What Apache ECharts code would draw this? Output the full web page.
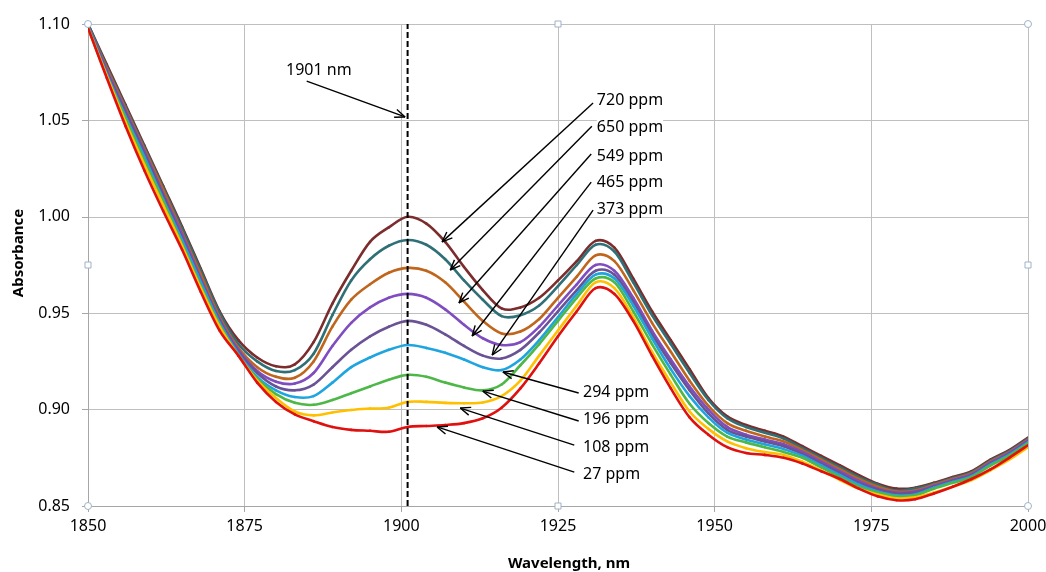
<!DOCTYPE html>
<html>
<head>
<meta charset="utf-8">
<script src="https://cdn.jsdelivr.net/npm/echarts@6/dist/echarts.min.js"></script>
<style>
html, body { margin: 0; padding: 0; background: #fff; }
#container { width: 1046px; height: 572px; }
</style>
</head>
<body>
<div id="container"></div>
<script>
var wavelengths = [1850, 1853, 1856, 1859, 1862, 1865, 1868, 1871, 1874, 1877, 1880, 1883, 1886, 1889, 1892, 1895, 1898, 1901, 1904, 1907, 1910, 1913, 1916, 1919, 1922, 1925, 1928, 1931, 1934, 1937, 1940, 1943, 1946, 1949, 1952, 1955, 1958, 1961, 1964, 1967, 1970, 1973, 1976, 1979, 1982, 1985, 1988, 1991, 1994, 1997, 2000];

var ppm720 = [1.100, 1.079, 1.058, 1.037, 1.016, 0.995, 0.973, 0.951, 0.936, 0.927, 0.9225, 0.9235, 0.935, 0.955, 0.972, 0.987, 0.9945, 1.000, 0.9965, 0.987, 0.974, 0.962, 0.9525, 0.9530, 0.958, 0.967, 0.977, 0.9875, 0.984, 0.968, 0.951, 0.936, 0.921, 0.906, 0.8965, 0.892, 0.889, 0.886, 0.881, 0.876, 0.871, 0.866, 0.8615, 0.859, 0.8595, 0.862, 0.865, 0.868, 0.874, 0.879, 0.8855];
var ppm650 = [1.100, 1.078, 1.057, 1.036, 1.015, 0.994, 0.972, 0.950, 0.934, 0.925, 0.920, 0.9205, 0.929, 0.949, 0.967, 0.978, 0.985, 0.988, 0.9855, 0.978, 0.967, 0.957, 0.9485, 0.949, 0.954, 0.964, 0.975, 0.9855, 0.982, 0.966, 0.949, 0.934, 0.919, 0.905, 0.8955, 0.891, 0.888, 0.885, 0.880, 0.875, 0.870, 0.865, 0.861, 0.858, 0.859, 0.8615, 0.8645, 0.8675, 0.8735, 0.8785, 0.885];
var ppm549 = [1.099, 1.077, 1.056, 1.035, 1.014, 0.992, 0.970, 0.948, 0.932, 0.922, 0.917, 0.9165, 0.925, 0.943, 0.957, 0.965, 0.971, 0.9735, 0.972, 0.966, 0.956, 0.946, 0.9395, 0.9405, 0.947, 0.958, 0.969, 0.980, 0.977, 0.962, 0.945, 0.930, 0.915, 0.902, 0.893, 0.889, 0.886, 0.8835, 0.879, 0.874, 0.869, 0.864, 0.860, 0.8575, 0.858, 0.861, 0.864, 0.867, 0.873, 0.878, 0.8845];
var ppm465 = [1.099, 1.076, 1.055, 1.034, 1.012, 0.991, 0.968, 0.947, 0.931, 0.920, 0.9145, 0.9135, 0.919, 0.933, 0.945, 0.953, 0.958, 0.960, 0.958, 0.952, 0.944, 0.937, 0.9335, 0.935, 0.943, 0.954, 0.965, 0.975, 0.972, 0.958, 0.941, 0.926, 0.912, 0.900, 0.891, 0.887, 0.8845, 0.882, 0.878, 0.873, 0.868, 0.863, 0.859, 0.857, 0.8575, 0.8605, 0.8635, 0.8665, 0.8725, 0.8775, 0.884];
var ppm373 = [1.099, 1.075, 1.054, 1.033, 1.011, 0.989, 0.967, 0.946, 0.930, 0.919, 0.912, 0.910, 0.913, 0.922, 0.931, 0.938, 0.943, 0.946, 0.944, 0.939, 0.933, 0.928, 0.9265, 0.931, 0.940, 0.951, 0.962, 0.972, 0.970, 0.956, 0.939, 0.924, 0.910, 0.898, 0.8895, 0.886, 0.8835, 0.881, 0.877, 0.872, 0.867, 0.862, 0.8585, 0.8565, 0.857, 0.860, 0.863, 0.866, 0.872, 0.877, 0.8835];
var ppm294 = [1.099, 1.074, 1.052, 1.031, 1.009, 0.988, 0.966, 0.945, 0.929, 0.917, 0.910, 0.9065, 0.907, 0.914, 0.922, 0.927, 0.931, 0.9335, 0.932, 0.9295, 0.926, 0.922, 0.9205, 0.926, 0.936, 0.948, 0.960, 0.970, 0.968, 0.954, 0.937, 0.921, 0.907, 0.896, 0.888, 0.8845, 0.882, 0.8795, 0.876, 0.871, 0.866, 0.861, 0.8575, 0.8555, 0.856, 0.8595, 0.8625, 0.8655, 0.8715, 0.8765, 0.883];
var ppm196 = [1.098, 1.073, 1.051, 1.029, 1.008, 0.986, 0.964, 0.944, 0.928, 0.916, 0.908, 0.9035, 0.9025, 0.905, 0.9085, 0.912, 0.9155, 0.918, 0.917, 0.914, 0.9115, 0.910, 0.913, 0.923, 0.934, 0.946, 0.958, 0.968, 0.966, 0.951, 0.934, 0.918, 0.903, 0.893, 0.886, 0.883, 0.8805, 0.878, 0.875, 0.870, 0.865, 0.860, 0.857, 0.855, 0.8555, 0.859, 0.862, 0.865, 0.871, 0.876, 0.8825];
var ppm108 = [1.098, 1.073, 1.049, 1.027, 1.006, 0.985, 0.963, 0.943, 0.928, 0.915, 0.906, 0.899, 0.897, 0.8985, 0.8998, 0.9005, 0.901, 0.904, 0.904, 0.9035, 0.9033, 0.9037, 0.907, 0.915, 0.928, 0.941, 0.954, 0.966, 0.963, 0.948, 0.930, 0.914, 0.899, 0.890, 0.8835, 0.880, 0.878, 0.8765, 0.873, 0.8685, 0.8635, 0.859, 0.856, 0.854, 0.8545, 0.857, 0.860, 0.8635, 0.8685, 0.874, 0.8805];
var ppm27 = [1.098, 1.072, 1.047, 1.024, 1.003, 0.983, 0.961, 0.941, 0.928, 0.914, 0.904, 0.8975, 0.894, 0.891, 0.8895, 0.889, 0.8885, 0.891, 0.8915, 0.892, 0.893, 0.8955, 0.901, 0.911, 0.924, 0.938, 0.951, 0.963, 0.960, 0.946, 0.928, 0.911, 0.896, 0.887, 0.8805, 0.8775, 0.8765, 0.875, 0.872, 0.868, 0.864, 0.859, 0.855, 0.853, 0.8535, 0.8565, 0.860, 0.864, 0.869, 0.875, 0.8815];

var seriesNames = ['720 ppm', '650 ppm', '549 ppm', '465 ppm', '373 ppm', '294 ppm', '196 ppm', '108 ppm', '27 ppm'];
var seriesValues = [ppm720, ppm650, ppm549, ppm465, ppm373, ppm294, ppm196, ppm108, ppm27];
var seriesColors = ['#7b2c2c', '#2f7077', '#c0651c', '#7f4dbf', '#6a5296', '#1ea5e0', '#4db848', '#ffc000', '#e0100f'];

var markedWavelength = 1901;
var markedRange = [0.85, 1.10];

// annotation arrows (tail, head) and label anchors, in data coords
var arrowLabels = ['720 ppm', '650 ppm', '549 ppm', '465 ppm', '373 ppm', '294 ppm', '196 ppm', '108 ppm', '27 ppm'];
var arrowTails = [[1930.6, 1.059], [1930.4, 1.047], [1930.3, 1.0326], [1930.3, 1.018], [1930.6, 1.0035], [1928.3, 0.9086], [1928.3, 0.8941], [1927.6, 0.8816], [1927.6, 0.8676]];
var arrowHeads = [[1906.5, 0.987], [1907.8, 0.9724], [1909.2, 0.9553], [1911.3, 0.9382], [1914.5, 0.9283], [1916.2, 0.9195], [1913.0, 0.9096], [1909.4, 0.9008], [1905.7, 0.891]];
var labelAnchors = [[1931.2, 1.0601], [1931.2, 1.0461], [1931.2, 1.0315], [1931.2, 1.0180], [1931.2, 1.0040], [1929.0, 0.9091], [1929.0, 0.8951], [1929.0, 0.8806], [1929.0, 0.8666]];
var nmLabel = '1901 nm';
var nmLabelPos = [1881.6, 1.0761];
var nmArrow = [[1884.9, 1.0704], [1900.6, 1.0518]];

var dom = document.getElementById('container');
var myChart = echarts.init(dom);

var font = 'Noto Sans, Liberation Sans, sans-serif';

// each spectrum: custom series, one cubic segment per data point (Catmull-Rom through the data)
function spectrumSeries(i) {
    var vals = seriesValues[i];
    var n = wavelengths.length;
    return {
        name: seriesNames[i],
        type: 'custom',
        coordinateSystem: 'cartesian2d',
        clip: true,
        encode: { x: 0, y: 1 },
        data: wavelengths.map(function (w, j) { return [w, vals[j]]; }),
        renderItem: function (params, api) {
            var j = params.dataIndex;
            if (j >= n - 1) return null;
            function pt(k) {
                k = Math.max(0, Math.min(n - 1, k));
                return api.coord([wavelengths[k], vals[k]]);
            }
            var p0 = pt(j - 1), p1 = pt(j), p2 = pt(j + 1), p3 = pt(j + 2);
            return {
                type: 'bezierCurve',
                shape: {
                    x1: p1[0], y1: p1[1], x2: p2[0], y2: p2[1],
                    cpx1: p1[0] + (p2[0] - p0[0]) / 6, cpy1: p1[1] + (p2[1] - p0[1]) / 6,
                    cpx2: p2[0] - (p3[0] - p1[0]) / 6, cpy2: p2[1] - (p3[1] - p1[1]) / 6
                },
                style: { stroke: seriesColors[i], lineWidth: 2.6, fill: 'none', lineCap: 'round' }
            };
        }
    };
}

var series = seriesNames.map(function (name, i) { return spectrumSeries(i); });
series.push({
    name: 'marker',
    type: 'line',
    symbol: 'none',
    silent: true,
    z: 5,
    lineStyle: { color: '#000', type: [6, 3], width: 2 },
    data: [[markedWavelength, markedRange[0]], [markedWavelength, markedRange[1]]]
});

option = {
    animation: false,
    grid: { left: 88, right: 18, top: 24, bottom: 66, outerBoundsMode: 'none', containLabel: false },
    xAxis: {
        type: 'value',
        min: 1850,
        max: 2000,
        interval: 25,
        name: 'Wavelength, nm',
        nameLocation: 'middle',
        nameGap: 50,
        nameTextStyle: { fontFamily: font, fontWeight: 'bold', fontSize: 15, color: '#000', padding: [0, 0, 0, 22] },
        axisLine: { lineStyle: { color: '#a6a6a6' } },
        axisTick: { show: true, length: 6, lineStyle: { color: '#a6a6a6' } },
        axisLabel: {
            fontFamily: font, fontSize: 16, color: '#000', margin: 12,
            formatter: function (v) { return String(v); }
        },
        splitLine: { show: true, lineStyle: { color: '#bfbfbf' } }
    },
    yAxis: {
        type: 'value',
        min: 0.85,
        max: 1.10,
        interval: 0.05,
        name: 'Absorbance',
        nameLocation: 'middle',
        nameGap: 62,
        nameTextStyle: { fontFamily: font, fontWeight: 'bold', fontSize: 15, color: '#000', padding: [0, 0, 0, 24] },
        axisLine: { show: true, lineStyle: { color: '#a6a6a6' } },
        axisTick: { show: true, length: 6, lineStyle: { color: '#a6a6a6' } },
        axisLabel: {
            fontFamily: font, fontSize: 16, color: '#000', margin: 18,
            formatter: function (v) { return v.toFixed(2); }
        },
        splitLine: { show: true, lineStyle: { color: '#bfbfbf' } }
    },
    series: series
};

if (option && typeof option === 'object') {
    myChart.setOption(option, true);
}

// arrows, labels and frame handles drawn from data coords
function px(p) { return myChart.convertToPixel({ gridIndex: 0 }, p); }

function arrow(tail, head) {
    var a = px(tail), b = px(head);
    var ang = Math.atan2(a[1] - b[1], a[0] - b[0]);
    var len = 11, spread = 0.38;
    var els = [{
        type: 'line', silent: true, z: 100,
        shape: { x1: a[0], y1: a[1], x2: b[0], y2: b[1] },
        style: { stroke: '#000', lineWidth: 1.4 }
    }];
    [-spread, spread].forEach(function (d) {
        els.push({
            type: 'line', silent: true, z: 100,
            shape: { x1: b[0], y1: b[1], x2: b[0] + len * Math.cos(ang + d), y2: b[1] + len * Math.sin(ang + d) },
            style: { stroke: '#000', lineWidth: 1.4 }
        });
    });
    return els;
}

var graphics = [];
arrowLabels.forEach(function (lbl, i) {
    graphics = graphics.concat(arrow(arrowTails[i], arrowHeads[i]));
    var t = px(labelAnchors[i]);
    graphics.push({
        type: 'text', silent: true, z: 100,
        x: t[0], y: t[1],
        style: { text: lbl, fill: '#000', font: '16px ' + font, textAlign: 'left', textVerticalAlign: 'middle', backgroundColor: '#fff' }
    });
});
graphics = graphics.concat(arrow(nmArrow[0], nmArrow[1]));
var np = px(nmLabelPos);
graphics.push({
    type: 'text', silent: true, z: 100,
    x: np[0], y: np[1],
    style: { text: nmLabel, fill: '#000', font: '16px ' + font, textAlign: 'left', textVerticalAlign: 'middle' }
});

// chart-frame handles
var handleCorners = [[1850, 1.10], [2000, 1.10], [1850, 0.85], [2000, 0.85]];
var handleMids = [[1925, 1.10], [1925, 0.85], [1850, 0.975], [2000, 0.975]];
handleCorners.forEach(function (p) {
    var q = px(p);
    graphics.push({ type: 'circle', silent: true, z: 110, shape: { cx: q[0], cy: q[1], r: 3.5 }, style: { fill: '#fff', stroke: '#9fb3c8', lineWidth: 1 } });
});
handleMids.forEach(function (p) {
    var q = px(p);
    graphics.push({ type: 'rect', silent: true, z: 110, shape: { x: q[0] - 3, y: q[1] - 3, width: 6, height: 6 }, style: { fill: '#fff', stroke: '#9fb3c8', lineWidth: 1 } });
});

myChart.setOption({ graphic: graphics });
</script>
</body>
</html>
